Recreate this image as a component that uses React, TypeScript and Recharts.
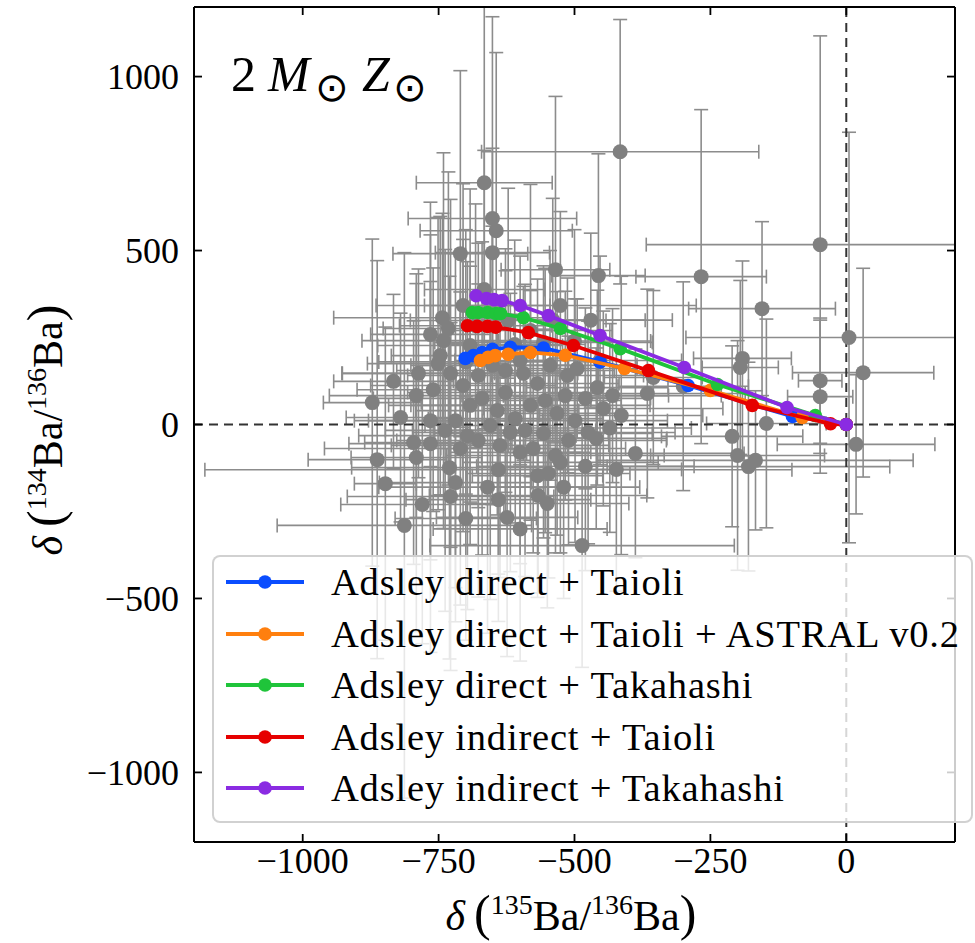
import React from "react";
import { ScatterChart, Scatter, XAxis, YAxis, ErrorBar, ReferenceLine, Label } from "recharts";

// ---- observed grain data: [x, y, xErr, yErr] ----
const obsX = [-416,-666,-651,-644,-651,-710,-535,-48,-456,-267,-155,5,31,-48,-48,-191,-195,-147,18,-210,-200,-167,-180,-388,-423,-414,-366,-355,-458,-495,-557,-526,-568,-594,-486,-447,-475,-532,-557,-618,-642,-576,-600,-535,-526,-548,-568,-567,-550,-640,-624,-872,-863,-848,-813,-791,-765,-730,-719,-728,-796,-710,-697,-666,-705,-743,-732,-765,-741,-747,-751,-787,-833,-791,-728,-692,-670,-627,-609,-581,-554,-517,-499,-655,-677,-637,-591,-511,-719,-738,-765,-705,-677,-651,-627,-600,-545,-513,-480,-453,-430,-682,-622,-581,-692,-640,-780,-700,-660,-600,-520,-480,-460,-435,-820,-760,-700,-610,-540,-500,-470,-300];
const obsY = [784,695,592,557,494,491,445,517,428,425,333,250,149,126,80,190,164,3,-57,-34,-89,-103,-121,-83,-129,26,89,135,106,161,236,342,118,147,-348,46,-23,32,-26,-23,40,-69,-80,-89,-109,-141,-147,-204,-227,-216,-267,63,-101,-170,-290,-95,-55,-124,-167,-207,-52,-69,-32,388,342,307,276,259,241,198,175,147,124,83,147,55,75,92,17,55,69,83,11,-3,-46,-60,-17,-46,11,-17,11,112,141,170,155,184,170,141,75,184,83,284,299,270,227,-130,-230,-270,-180,-300,-180,-120,-40,-10,20,100,180,230,300,240,300,110];
const obsXErr = [255,125,155,140,105,124,100,320,86,120,135,300,130,40,60,90,70,110,145,130,160,290,260,200,120,150,180,90,130,110,200,250,150,100,280,220,160,120,200,180,150,170,130,200,180,150,120,200,150,170,130,90,127,57,234,120,150,180,140,190,90,250,200,110,160,200,120,110,150,90,130,140,110,160,200,150,200,180,160,220,140,190,170,120,150,200,130,180,160,110,140,170,130,150,200,120,160,140,120,150,200,140,180,150,170,540,150,130,200,160,140,200,130,150,100,140,160,130,170,140,150,120];
const obsYErr = [380,600,580,512,300,526,498,600,350,480,250,590,300,180,220,280,250,300,200,260,330,200,300,300,350,400,300,250,280,200,220,270,300,250,350,280,320,350,300,400,300,300,320,280,260,300,350,280,300,350,400,470,572,450,784,500,600,550,400,500,350,450,500,400,350,300,450,380,540,400,420,300,250,350,500,400,450,350,300,330,380,300,350,500,450,380,420,300,480,520,400,420,380,400,350,300,330,280,260,300,250,350,380,420,450,300,400,350,420,380,320,300,260,300,300,350,380,300,350,320,250,300];

// ---- model tracks ----
const seriesNames = [
  "Adsley direct + Taioli",
  "Adsley direct + Taioli + ASTRAL v0.2",
  "Adsley direct + Takahashi",
  "Adsley indirect + Taioli",
  "Adsley indirect + Takahashi",
];
const seriesColors = ["#0a4dff", "#ff7f0e", "#1fc43a", "#e60000", "#8a2be2"];
const blueX = [-701,-686,-670,-651,-618,-557,-453,-291,-99,0];
const blueY = [190,198,207,216,222,220,180,112,23,0];
const orangeX = [-673,-659,-646,-622,-581,-517,-408,-250,-81,0];
const orangeY = [184,193,198,202,207,199,161,98,20,0];
const greenX = [-688,-677,-660,-645,-636,-594,-526,-416,-237,-57,0];
const greenY = [322,322,322,319,319,307,276,218,115,26,0];
const redX = [-697,-679,-660,-645,-585,-502,-364,-173,-29,0];
const redY = [284,282,282,280,264,227,155,55,2,0];
const purpleX = [-681,-662,-648,-633,-600,-548,-453,-298,-109,0];
const purpleY = [370,362,359,356,342,313,256,164,49,0];

const xTicks = [-1000, -750, -500, -250, 0];
const yTicks = [-1000, -500, 0, 500, 1000];
const xDomain = [-1200, 200];
const yDomain = [-1200, 1200];

// error bars trimmed at the axes limits (as the reference clips them to the frame)
const obsData = obsX.map((x, i) => {
  const y = obsY[i];
  return {
    x,
    y,
    ex: [Math.min(obsXErr[i], x - xDomain[0]), Math.min(obsXErr[i], xDomain[1] - x)],
    ey: [Math.min(obsYErr[i], y - yDomain[0]), Math.min(obsYErr[i], yDomain[1] - y)],
  };
});
const tracks = [
  [blueX, blueY],
  [orangeX, orangeY],
  [greenX, greenY],
  [redX, redY],
  [purpleX, purpleY],
].map(([xs, ys]) => xs.map((x, i) => ({ x, y: ys[i] })));

const FONT = "'Liberation Serif', 'DejaVu Serif', serif";
const fmt = (v: number) => (v < 0 ? "\u2212" + Math.abs(v) : String(v));

const BottomTick = (p: any) => (
  <g>
    <line x1={p.x} y1={p.y} x2={p.x} y2={p.y - 8} stroke="#000" strokeWidth={1.8} />
    <text x={p.x} y={p.y + 31} textAnchor="middle" fontFamily={FONT} fontSize={36} fill="#000">
      {fmt(p.payload.value)}
    </text>
  </g>
);
const LeftTick = (p: any) => (
  <g>
    <line x1={p.x} y1={p.y} x2={p.x + 8} y2={p.y} stroke="#000" strokeWidth={1.8} />
    <text x={p.x - 15} y={p.y} dy="0.35em" textAnchor="end" fontFamily={FONT} fontSize={36} fill="#000">
      {fmt(p.payload.value)}
    </text>
  </g>
);
const TopTick = (p: any) => (
  <line x1={p.x} y1={p.y} x2={p.x} y2={p.y + 8} stroke="#000" strokeWidth={1.8} />
);
const RightTick = (p: any) => (
  <line x1={p.x} y1={p.y} x2={p.x - 8} y2={p.y} stroke="#000" strokeWidth={1.8} />
);

const XTitle = () => (
  <text x={571} y={930} textAnchor="middle" fontFamily={FONT} fontSize={42} fill="#000">
    <tspan fontStyle="italic">δ</tspan>
    <tspan fontSize={50} dx={9}>(</tspan>
    <tspan fontSize={28} dy={-16}>135</tspan>
    <tspan dy={16}>Ba/</tspan>
    <tspan fontSize={28} dy={-16}>136</tspan>
    <tspan dy={16}>Ba</tspan>
    <tspan fontSize={50}>)</tspan>
  </text>
);
const YTitle = () => (
  <text x={0} y={0} transform="translate(62,430) rotate(-90)" textAnchor="middle" fontFamily={FONT} fontSize={42} fill="#000">
    <tspan fontStyle="italic">δ</tspan>
    <tspan fontSize={50} dx={9}>(</tspan>
    <tspan fontSize={28} dy={-16}>134</tspan>
    <tspan dy={16}>Ba/</tspan>
    <tspan fontSize={28} dy={-16}>136</tspan>
    <tspan dy={16}>Ba</tspan>
    <tspan fontSize={50}>)</tspan>
  </text>
);

const GreyDot = (p: any) => <circle cx={p.cx} cy={p.cy} r={7.5} fill="#808080" />;
const makeDot = (color: string) => (p: any) => <circle cx={p.cx} cy={p.cy} r={6.8} fill={color} />;

export default function App() {
  return (
    <div style={{ position: "absolute", left: 0, top: 0, width: 975, height: 943, background: "#fff" }}>
      <ScatterChart width={975} height={943} margin={{ top: 6, right: 19, bottom: 0, left: 0 }}>
        <XAxis type="number" dataKey="x" domain={xDomain} ticks={xTicks} allowDataOverflow height={101}
          tickSize={0} tickMargin={0} tick={BottomTick} tickLine={false}
          axisLine={{ stroke: "#000", strokeWidth: 2 }}>
          <Label content={XTitle} />
        </XAxis>
        <XAxis xAxisId="top" orientation="top" type="number" dataKey="x" domain={xDomain} ticks={xTicks}
          allowDataOverflow height={1} tickSize={0} tickMargin={0} tick={TopTick} tickLine={false}
          axisLine={{ stroke: "#000", strokeWidth: 2 }} />
        <YAxis type="number" dataKey="y" domain={yDomain} ticks={yTicks} allowDataOverflow width={194}
          tickSize={0} tickMargin={0} tick={LeftTick} tickLine={false}
          axisLine={{ stroke: "#000", strokeWidth: 2 }}>
          <Label content={YTitle} />
        </YAxis>
        <YAxis yAxisId="right" orientation="right" type="number" dataKey="y" domain={yDomain} ticks={yTicks}
          allowDataOverflow width={1} tickSize={0} tickMargin={0} tick={RightTick} tickLine={false}
          axisLine={{ stroke: "#000", strokeWidth: 2 }} />

        <Scatter data={obsData} shape={GreyDot} isAnimationActive={false}>
          <ErrorBar dataKey="ex" direction="x" width={7} stroke="#8c8c8c" strokeWidth={1.6} />
          <ErrorBar dataKey="ey" direction="y" width={7} stroke="#8c8c8c" strokeWidth={1.6} />
        </Scatter>

        <ReferenceLine x={0} stroke="#333" strokeWidth={2} strokeDasharray="9 6" />
        <ReferenceLine y={0} stroke="#333" strokeWidth={2} strokeDasharray="9 6" />

        {tracks.map((d, i) => (
          <Scatter key={i} name={seriesNames[i]} data={d} shape={makeDot(seriesColors[i])}
            line={{ stroke: seriesColors[i], strokeWidth: 3.8 }} lineType="joint" isAnimationActive={false} />
        ))}
      </ScatterChart>

      <svg width={975} height={130} style={{ position: "absolute", left: 0, top: 0, pointerEvents: "none" }}>
        <text y={91} fontFamily={FONT} fontSize={50} fill="#000">
          <tspan x={231}>2</tspan>
          <tspan x={268} fontStyle="italic">M</tspan>
          <tspan x={315} dy={10} fontSize={40} fontFamily="'DejaVu Sans', sans-serif">⊙</tspan>
          <tspan x={362} dy={-10} fontStyle="italic">Z</tspan>
          <tspan x={393} dy={10} fontSize={40} fontFamily="'DejaVu Sans', sans-serif">⊙</tspan>
        </text>
      </svg>

      <div style={{
        position: "absolute", left: 212, top: 555, width: 757, height: 264,
        background: "rgba(255,255,255,0.8)", border: "2px solid rgba(204,204,204,0.9)", borderRadius: 8,
      }}>
        {seriesNames.map((n, i) => (
          <div key={n} style={{ position: "absolute", left: 0, top: 25 + i * 51.5 - 26, height: 52, width: "100%" }}>
            <svg width={100} height={52} style={{ position: "absolute", left: 0, top: 0 }}>
              <line x1={12} y1={26} x2={90} y2={26} stroke={seriesColors[i]} strokeWidth={3.8} />
              <circle cx={51} cy={26} r={6.8} fill={seriesColors[i]} />
            </svg>
            <span style={{ position: "absolute", left: 117, top: 0, lineHeight: "52px", fontFamily: FONT, fontSize: 38.5, letterSpacing: 0.8, color: "#000", whiteSpace: "nowrap" }}>
              {n}
            </span>
          </div>
        ))}
      </div>
    </div>
  );
}
